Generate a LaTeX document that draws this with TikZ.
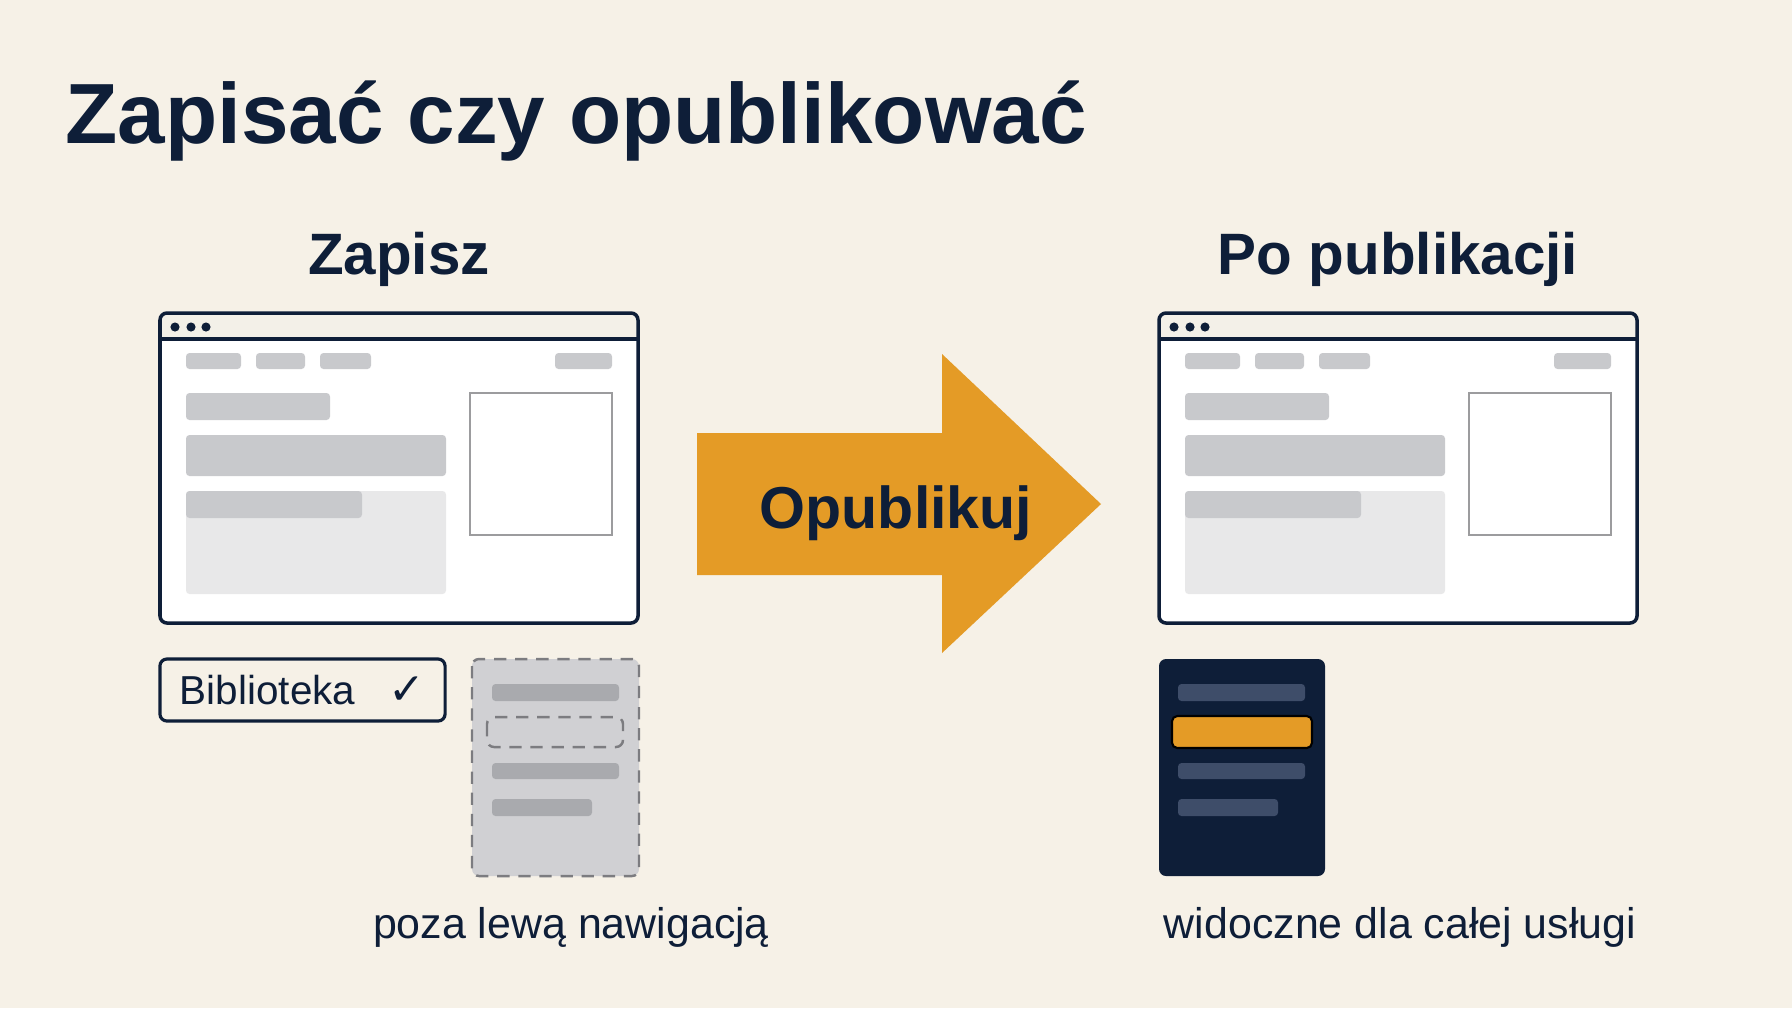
\documentclass[tikz,border=0pt]{standalone}
\usepackage{fontspec}
\setmainfont{Liberation Sans}
\newfontfamily\symfont{DejaVu Sans}

\definecolor{bg}{HTML}{F6F1E7}
\definecolor{navy}{HTML}{0E1E38}
\definecolor{gold}{HTML}{E49B26}
\definecolor{pillgray}{HTML}{C8C9CC}
\definecolor{panelgray}{HTML}{E8E8E9}
\definecolor{framegray}{HTML}{9C9C9E}
\definecolor{sidegray}{HTML}{D0D0D3}
\definecolor{sidebar}{HTML}{A9AAAE}
\definecolor{dashgray}{HTML}{7C7C80}
\definecolor{navbar}{HTML}{3E4D69}
\definecolor{barfill}{HTML}{F3F0E8}

\tikzset{
  window/.style={draw=navy, line width=1pt, rounded corners=2pt},
  pill/.style={fill=pillgray, rounded corners=1pt},
  heading/.style={text=navy, font=\bfseries\fontsize{16.6}{20}\selectfont},
  note/.style={text=navy, font=\fontsize{12.2}{14}\selectfont},
  dashline/.style={draw=dashgray, line width=0.7pt, dash pattern=on 3.5pt off 2.5pt, rounded corners=2pt}
}

\begin{document}
\begin{tikzpicture}[x=0.01cm, y=-0.01cm]

    % Page background and fixed size
    \fill[bg] (0,0) rectangle (1792,1008);
    \useasboundingbox (0,0) rectangle (1792,1008);

    % Title
    \node[anchor=base west, inner sep=0, text=navy, font=\bfseries\fontsize{24.3}{29}\selectfont] (title) at (65,143) {Zapisać czy opublikować};

    % Column headings
    \node[heading, anchor=base] (savehead) at (399,274) {Zapisz};
    \node[heading, anchor=base] (pubhead) at (1398,274) {Po publikacji};

    % The two browser windows (same page, shifted right)
    \foreach \dx in {0,999} {
      \begin{scope}[shift={(\dx,0)}]
        \fill[white, rounded corners=2pt] (160,313) rectangle (638,623);
        \begin{scope}
          \clip[rounded corners=2pt] (160,313) rectangle (638,623);
          \fill[barfill] (160,313) rectangle (638,339);
        \end{scope}
        \draw[navy, line width=1pt] (160,339) -- (638,339);
        \foreach \x in {175,191,206}
          \fill[navy] (\x,327) circle (1.3pt);

        % menu pills
        \fill[pill] (186,353) rectangle (241,369);
        \fill[pill] (256,353) rectangle (305,369);
        \fill[pill] (320,353) rectangle (371,369);
        \fill[pill] (555,353) rectangle (612,369);

        % content blocks
        \fill[pill] (186,393) rectangle (330,420);
        \fill[pill] (186,435) rectangle (446,476);
        \fill[panelgray, rounded corners=1pt] (186,491) rectangle (446,594);
        \fill[pill] (186,491) rectangle (362,518);
        \draw[framegray, line width=0.7pt] (470,393) rectangle (612,535);

        \draw[window] (160,313) rectangle (638,623);
      \end{scope}
    }

    % Library tag under the saved page
    \node[draw=navy, line width=0.9pt, rounded corners=2pt, text=navy,
          minimum height=0.62cm, text width=2.45cm, inner xsep=0.2cm,
          font=\fontsize{11.5}{13}\selectfont] (libtag) at (302.5,690)
          {Biblioteka\hfill{\symfont\fontsize{12.5}{13}\selectfont ✓}};

    % Side menu without the page (dashed)
    \draw[dashline, fill=sidegray] (472,659) rectangle (639,876);
    \fill[sidebar, rounded corners=1pt] (492,684) rectangle (619,701);
    \draw[dashline] (487,717) rectangle (623,747);
    \fill[sidebar, rounded corners=1pt] (492,763) rectangle (619,779);
    \fill[sidebar, rounded corners=1pt] (492,799) rectangle (592,816);

    % Side menu with the published page
    \fill[navy, rounded corners=2pt] (1159,659) rectangle (1325,876);
    \fill[navbar, rounded corners=1pt] (1178,684) rectangle (1305,701);
    \draw[black, line width=0.6pt, fill=gold, rounded corners=1.5pt] (1172,716) rectangle (1312,748);
    \fill[navbar, rounded corners=1pt] (1178,763) rectangle (1305,779);
    \fill[navbar, rounded corners=1pt] (1178,799) rectangle (1278,816);

    % Big arrow
    \fill[gold] (697,433) -- (942,433) -- (942,354) -- (1101,504)
        -- (942,653) -- (942,575) -- (697,575) -- cycle;
    \node[anchor=base, text=navy, font=\bfseries\fontsize{16.8}{20}\selectfont] (publabel) at (896,528) {Opublikuj};

    % Captions
    \node[note, anchor=base] (offnote) at (571,938) {poza lewą nawigacją};
    \node[note, anchor=base] (svcnote) at (1400,938) {widoczne dla całej usługi};

\end{tikzpicture}
\end{document}
